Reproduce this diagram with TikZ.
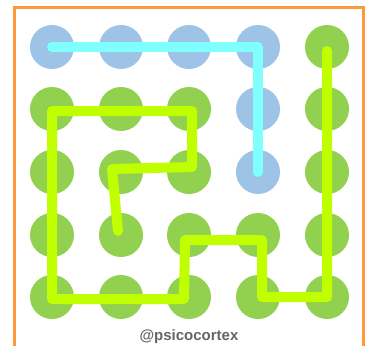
\documentclass[tikz,border=0pt]{standalone}
\usepackage{fontspec}
\setmainfont{Liberation Sans}
\usepackage{tikz}

\definecolor{dotblue}{HTML}{9DC3E6}
\definecolor{dotgreen}{HTML}{92D050}
\definecolor{pathcyan}{HTML}{80FFFF}
\definecolor{pathlime}{HTML}{C0FF00}
\definecolor{frameorange}{HTML}{FF9A3C}

\begin{document}
\begin{tikzpicture}[x=1pt,y=-1pt,
    bdot/.style={circle,fill=dotblue,minimum size=44pt,inner sep=0pt},
    gdot/.style={circle,fill=dotgreen,minimum size=44pt,inner sep=0pt},
    cyanline/.style={pathcyan,line width=10pt,line cap=round,line join=round},
    limeline/.style={pathlime,line width=10pt,line cap=round,line join=round}]
                \useasboundingbox (0,0) rectangle (366,345);
                \draw[frameorange,line width=3pt] (14,7.5) rectangle (363.5,360);
                % row 1
                \node[bdot] (d11) at (52,47) {};
                \node[bdot] (d12) at (121,47) {};
                \node[bdot] (d13) at (189,47) {};
                \node[bdot] (d14) at (258,47) {};
                \node[gdot] (d15) at (327,47) {};
                % row 2
                \node[gdot] (d21) at (52,109) {};
                \node[gdot] (d22) at (121,109) {};
                \node[gdot] (d23) at (189,109) {};
                \node[bdot] (d24) at (258,109) {};
                \node[gdot] (d25) at (327,109) {};
                % row 3
                \node[gdot] (d31) at (52,172) {};
                \node[gdot] (d32) at (121,172) {};
                \node[gdot] (d33) at (189,172) {};
                \node[bdot] (d34) at (258,172) {};
                \node[gdot] (d35) at (327,172) {};
                % row 4
                \node[gdot] (d41) at (52,235) {};
                \node[gdot] (d42) at (121,235) {};
                \node[gdot] (d43) at (189,235) {};
                \node[gdot] (d44) at (258,235) {};
                \node[gdot] (d45) at (327,235) {};
                % row 5
                \node[gdot] (d51) at (52,297) {};
                \node[gdot] (d52) at (121,297) {};
                \node[gdot] (d53) at (189,297) {};
                \node[gdot] (d54) at (258,297) {};
                \node[gdot] (d55) at (327,297) {};
                \node[text=black!60,font=\bfseries\fontsize{15}{17}\selectfont] (tag) at (189,337) {@psicocortex};

                \draw[cyanline]
                (d11.center) -- (d14.center) -- (d34.center);
                \draw[limeline]
                ([xshift=-3pt,yshift=4pt]d42.center) -- ([xshift=-9pt,yshift=3pt]d32.center)
                -- ([xshift=3pt,yshift=5pt]d33.center) -- ([xshift=3pt,yshift=-2pt]d23.center)
                -- ([yshift=-2pt]d21.center) -- ([yshift=-2pt]d51.center)
                -- ([xshift=-5pt,yshift=-2pt]d53.center) -- ([xshift=-4pt,yshift=-5pt]d43.center)
                -- ([xshift=4pt,yshift=-5pt]d44.center) -- ([xshift=4pt]d54.center)
                -- (d55.center) -- ([yshift=-4pt]d15.center);
            \end{tikzpicture}
\end{document}
